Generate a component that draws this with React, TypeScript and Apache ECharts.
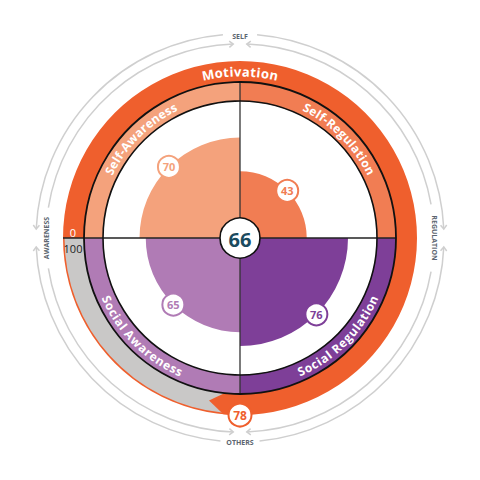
import React, { useEffect, useRef } from "react";
import * as echarts from "echarts";

// ---------- data ----------
const categories = ["Self-Regulation", "Social Regulation", "Social Awareness", "Self-Awareness"];
const scores = [43, 76, 65, 70];
const colors = ["#F17D53", "#7E3F98", "#B07BB5", "#F4A27C"];
const motivationLabel = "Motivation";
const motivationScore = 78;
const overallScore = 66;
const directionLabels = ["SELF", "REGULATION", "OTHERS", "AWARENESS"];
const scaleTicks = ["0", "100"];

// ---------- layout ----------
const CX = 240;
const CY = 238;
const R_INNER = 137;
const R_RING = 156;
const R_MOT = 177;
const ORANGE = "#EF5F2D";
const GRAY = "#C9C8C7";
const ARROW = "#CFCFCF";
const FONT = '"Open Sans", "DejaVu Sans", sans-serif';

function ptMath(r: number, deg: number): [number, number] {
  const a = (deg * Math.PI) / 180;
  return [CX + r * Math.cos(a), CY - r * Math.sin(a)];
}
function ptCanvas(r: number, deg: number): [number, number] {
  const a = (deg * Math.PI) / 180;
  return [CX + r * Math.cos(a), CY + r * Math.sin(a)];
}

let measureCtx: CanvasRenderingContext2D | null = null;
function measure(t: string, size: number, weight: string) {
  if (!measureCtx) measureCtx = document.createElement("canvas").getContext("2d");
  measureCtx!.font = `${weight} ${size}px ${FONT}`;
  return measureCtx!.measureText(t).width;
}

function arcText(str: string, r: number, phiC: number, top: boolean, size: number, color: string, spacing: number) {
  const chars = str.split("");
  const ws = chars.map((c) => measure(c, size, "bold"));
  const W = ws.reduce((a, b) => a + b, 0) + spacing * (chars.length - 1);
  const els: any[] = [];
  let acc = 0;
  chars.forEach((c, i) => {
    const off = acc + ws[i] / 2;
    acc += ws[i] + spacing;
    const d = ((off - W / 2) / r) * (180 / Math.PI);
    const phi = top ? phiC - d : phiC + d;
    const rot = top ? phi - 90 : phi - 270;
    const [x, y] = ptMath(r, phi);
    els.push({
      type: "text",
      x,
      y,
      rotation: (rot * Math.PI) / 180,
      z: 15,
      silent: true,
      style: { text: c, fill: color, fontSize: size, fontWeight: "bold", fontFamily: FONT, align: "center", verticalAlign: "middle" },
    });
  });
  return els;
}

function arrowHead(r: number, deg: number, increasing: boolean) {
  const a = (deg * Math.PI) / 180;
  const tip = ptCanvas(r, deg);
  let dx = -Math.sin(a);
  let dy = Math.cos(a);
  if (!increasing) { dx = -dx; dy = -dy; }
  const L = 5;
  const ang = (38 * Math.PI) / 180;
  const bx = -dx, by = -dy;
  const p1: [number, number] = [tip[0] + L * (bx * Math.cos(ang) - by * Math.sin(ang)), tip[1] + L * (bx * Math.sin(ang) + by * Math.cos(ang))];
  const p2: [number, number] = [tip[0] + L * (bx * Math.cos(-ang) - by * Math.sin(-ang)), tip[1] + L * (bx * Math.sin(-ang) + by * Math.cos(-ang))];
  return { type: "polyline", z: 4, silent: true, shape: { points: [p1, tip, p2] }, style: { stroke: ARROW, lineWidth: 1.5, fill: null } };
}

function arcEl(r: number, s: number, e: number) {
  return {
    type: "arc",
    z: 4,
    silent: true,
    shape: { cx: CX, cy: CY, r, startAngle: (s * Math.PI) / 180, endAngle: (e * Math.PI) / 180, clockwise: true },
    style: { stroke: ARROW, lineWidth: 1.5, fill: null },
  };
}

function buildOption() {
  const motAngle = (v: number) => 180 - v * 3.6;
  const base = motivationScore - 1.5;

  const R1 = 194;
  const R2 = 204;
  const arcs: any[] = [];
  // outer circle arcs (arrows at horizontal ends)
  [[182.5, 265.2, 182.5, false], [274.8, 357.5, 357.5, true], [2.5, 84.5, 2.5, false], [95.5, 177.5, 177.5, true]].forEach(
    ([s, e, t, inc]: any) => { arcs.push(arcEl(R2, s, e)); arcs.push(arrowHead(R2, t, inc)); }
  );
  // inner circle arcs (arrows at vertical ends)
  [[189, 268, 268, true], [272, 350, 272, false], [10, 88, 88, true], [92, 171, 92, false]].forEach(
    ([s, e, t, inc]: any) => { arcs.push(arcEl(R1, s, e)); arcs.push(arrowHead(R1, t, inc)); }
  );

  const dirText = (t: string, x: number, y: number, rot: number) => ({
    type: "text", x, y, rotation: rot, z: 15, silent: true,
    style: { text: t, fill: "#5C6670", fontSize: 7, fontWeight: "bold", fontFamily: FONT, align: "center", verticalAlign: "middle" },
  });

  const chevron = {
    type: "polygon",
    z: 5,
    silent: true,
    shape: {
      points: [
        ptMath(R_RING - 0.5, motAngle(base - 1)),
        ptMath(R_RING - 0.5, motAngle(base)),
        ptMath((R_RING + R_MOT) / 2 - 1, motAngle(motivationScore)),
        ptMath(R_MOT, motAngle(base)),
        ptMath(R_MOT, motAngle(base - 1)),
      ],
    },
    style: { fill: ORANGE },
  };

  const [mx, my] = ptMath(R_MOT, 270);

  const graphics: any[] = [
    ...arcs,
    chevron,
    { type: "circle", z: 10, silent: true, shape: { cx: CX, cy: CY, r: R_INNER }, style: { fill: null, stroke: "#111", lineWidth: 1.6 } },
    { type: "circle", z: 10, silent: true, shape: { cx: CX, cy: CY, r: R_RING }, style: { fill: null, stroke: "#111", lineWidth: 1.8 } },
    { type: "line", z: 9, silent: true, shape: { x1: CX, y1: CY - R_RING, x2: CX, y2: CY + R_RING }, style: { stroke: "#333", lineWidth: 1.3 } },
    { type: "line", z: 9, silent: true, shape: { x1: CX - R_MOT, y1: CY, x2: CX + R_RING, y2: CY }, style: { stroke: "#222", lineWidth: 1.3 } },
    { type: "circle", z: 30, silent: true, shape: { cx: CX, cy: CY, r: 20 }, style: { fill: "#fff", stroke: "#111", lineWidth: 1.6 } },
    { type: "text", z: 31, silent: true, x: CX, y: CY + 1, style: { text: String(overallScore), fill: "#1B4B5F", fontSize: 20, fontWeight: "bold", fontFamily: FONT, align: "center", verticalAlign: "middle" } },
    { type: "circle", z: 30, silent: true, shape: { cx: mx, cy: my, r: 11.5 }, style: { fill: "#fff", stroke: ORANGE, lineWidth: 2 } },
    { type: "text", z: 31, silent: true, x: mx, y: my + 0.5, style: { text: String(motivationScore), fill: ORANGE, fontSize: 12, fontWeight: "bold", fontFamily: FONT, align: "center", verticalAlign: "middle" } },
    { type: "text", z: 15, silent: true, x: CX - 167, y: CY - 6, style: { text: scaleTicks[0], fill: "#fff", fontSize: 11, fontFamily: FONT, align: "center", verticalAlign: "middle" } },
    { type: "text", z: 15, silent: true, x: CX - 167, y: CY + 10, style: { text: scaleTicks[1], fill: "#222", fontSize: 11, fontFamily: FONT, align: "center", verticalAlign: "middle" } },
    dirText(directionLabels[0], CX, CY - 202, 0),
    dirText(directionLabels[1], CX + R1, CY, -Math.PI / 2),
    dirText(directionLabels[2], CX, CY + 204, 0),
    dirText(directionLabels[3], CX - R1, CY, Math.PI / 2),
    ...arcText(motivationLabel, (R_RING + R_MOT) / 2, 90, true, 13, "#fff", 0.6),
    ...arcText(categories[0], (R_INNER + R_RING) / 2, 45, true, 12, "#fff", 0.5),
    ...arcText(categories[1], (R_INNER + R_RING) / 2, 315, false, 12, "#fff", 0.5),
    ...arcText(categories[2], (R_INNER + R_RING) / 2, 225, false, 12, "#fff", 0.5),
    ...arcText(categories[3], (R_INNER + R_RING) / 2, 135, true, 12, "#fff", 0.5),
  ];

  const pieCommon = {
    type: "pie",
    center: [CX, CY],
    silent: true,
    clockwise: true,
    avoidLabelOverlap: false,
    label: { show: false },
    labelLine: { show: false },
    emphasis: { disabled: true },
    minAngle: 0,
  };

  return {
    animation: false,
    backgroundColor: "#fff",
    polar: { center: [CX, CY], radius: [13, 138] },
    angleAxis: { type: "category", data: categories, startAngle: 90, clockwise: true, show: false },
    radiusAxis: { type: "value", min: 0, max: 100, show: false },
    graphic: { elements: graphics },
    series: [
      { ...pieCommon, z: 1, radius: [R_RING, R_MOT], startAngle: 180, data: [{ value: 100, itemStyle: { color: ORANGE } }] },
      {
        ...pieCommon, z: 2, radius: [R_RING, R_MOT - 1.5], startAngle: 180,
        data: [
          { value: base, itemStyle: { color: "rgba(0,0,0,0)" } },
          { value: 100 - base, itemStyle: { color: GRAY } },
        ],
      },
      {
        ...pieCommon, z: 2, radius: [R_INNER, R_RING], startAngle: 90,
        data: categories.map((c, i) => ({ name: c, value: 1, itemStyle: { color: colors[i] } })),
      },
      {
        type: "bar",
        coordinateSystem: "polar",
        barCategoryGap: "0%",
        silent: true,
        z: 3,
        data: scores.map((v, i) => ({ value: v, itemStyle: { color: colors[i] } })),
      },
      {
        type: "scatter",
        coordinateSystem: "polar",
        silent: true,
        z: 20,
        symbol: "circle",
        symbolSize: 22,
        itemStyle: { color: "#fff", borderWidth: 2, opacity: 1 },
        label: {
          show: true,
          position: "inside",
          fontSize: 11,
          fontWeight: "bold",
          fontFamily: FONT,
          formatter: (p: any) => String(p.value[0]),
        },
        data: scores.map((v, i) => ({
          value: [v, categories[i]],
          itemStyle: { borderColor: colors[i], opacity: 1 },
          label: { color: colors[i] },
        })),
      },
    ],
  };
}

export default function App() {
  const ref = useRef<HTMLDivElement>(null);
  useEffect(() => {
    if (!ref.current) return;
    const chart = echarts.init(ref.current, undefined, { renderer: "svg" });
    chart.setOption(buildOption() as any);
    return () => chart.dispose();
  }, []);
  return <div ref={ref} style={{ position: "fixed", left: 0, top: 0, width: 480, height: 480 }} />;
}
